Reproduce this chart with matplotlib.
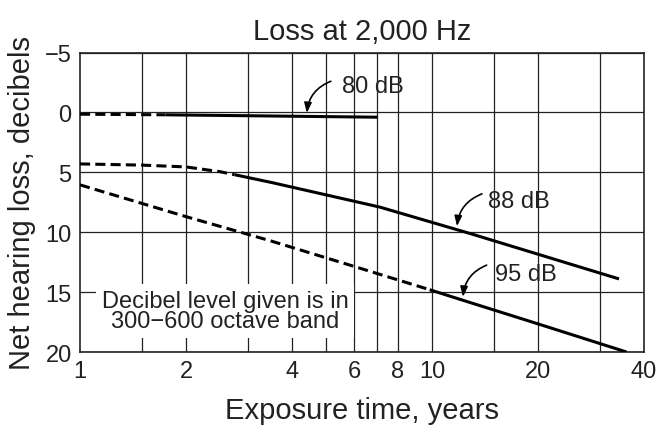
import matplotlib
matplotlib.use("Agg")
import matplotlib.pyplot as plt
from matplotlib.ticker import FixedLocator, NullFormatter

plt.rcParams['font.family'] = ['Liberation Sans', 'DejaVu Sans']

# ---- data ----
years_80_dashed = [1.0, 1.75]
loss_80_dashed = [0.15, 0.2]
years_80_solid = [1.75, 7.0]
loss_80_solid = [0.2, 0.4]

years_88_dashed = [1.0, 1.5, 2.0, 2.5, 2.75]
loss_88_dashed = [4.3, 4.4, 4.55, 4.95, 5.2]
years_88_solid = [2.75, 3.5, 7.1, 12.8, 34.0]
loss_88_solid = [5.2, 5.85, 7.9, 10.1, 13.9]

years_95_dashed = [1.0, 2.0, 3.46, 6.0, 9.85]
loss_95_dashed = [6.05, 8.7, 10.7, 12.85, 14.8]
years_95_solid = [9.85, 12.0, 20.0, 35.7]
loss_95_solid = [14.8, 15.6, 17.65, 20.0]

x_tick_values = [1, 2, 4, 6, 8, 10, 20, 40]
x_tick_labels = ["1", "2", "4", "6", "8", "10", "20", "40"]
x_grid_values = [1.5, 2, 3, 4, 5, 6, 7, 8, 10, 15, 20, 30]
y_tick_values = [-5, 0, 5, 10, 15, 20]

title = "Loss at 2,000 Hz"
xlabel = "Exposure time, years"
ylabel = "Net hearing loss, decibels"
note = "Decibel level given is in\n300\u2212600 octave band"

# ---- figure ----
fig = plt.figure(figsize=(6.57, 4.35), dpi=100)
ax = fig.add_axes([0.1218, 0.1885, 0.980 - 0.1218, 0.877 - 0.1885])

lw = 2.2
dash = (0, (3.3, 1.7))
kw = dict(color='black', lw=lw, zorder=3, solid_capstyle='butt', dash_capstyle='butt')
ax.plot(years_80_dashed, loss_80_dashed, linestyle=dash, **kw)
ax.plot(years_80_solid, loss_80_solid, linestyle='-', **kw)
ax.plot(years_88_dashed, loss_88_dashed, linestyle=dash, **kw)
ax.plot(years_88_solid, loss_88_solid, linestyle='-', **kw)
ax.plot(years_95_dashed, loss_95_dashed, linestyle=dash, **kw)
ax.plot(years_95_solid, loss_95_solid, linestyle='-', **kw)

ax.set_xscale('log')
ax.set_xlim(1, 40)
ax.set_ylim(20, -5)

ax.xaxis.remove_overlapping_locs = False
ax.xaxis.set_major_locator(FixedLocator(x_tick_values))
ax.set_xticklabels(x_tick_labels)
ax.xaxis.set_minor_locator(FixedLocator(x_grid_values))
ax.xaxis.set_minor_formatter(NullFormatter())
ax.set_yticks(y_tick_values)
ax.set_yticklabels([str(v).replace('-', '\u2212') for v in y_tick_values])

ax.tick_params(which='both', length=0, labelsize=17, pad=6, colors='#222222')
ax.grid(False, which='major', axis='x')
ax.grid(True, which='minor', axis='x', color='#222222', lw=0.9)
ax.grid(True, which='major', axis='y', color='#222222', lw=0.9)
ax.set_axisbelow(True)
for s in ax.spines.values():
    s.set_linewidth(1.2)
    s.set_color('#222222')

ax.set_title(title, fontsize=21, pad=10, color='#222222')
ax.set_xlabel(xlabel, fontsize=21, labelpad=10, color='#222222')
ax.set_ylabel(ylabel, fontsize=21, labelpad=6, color='#222222')

# annotations
arrow = dict(arrowstyle='-|>,head_length=0.6,head_width=0.22', color='black', lw=1.2,
             shrinkA=0, shrinkB=0, connectionstyle='arc3,rad=0.3')
ax.annotate('', xy=(4.41, 0.05), xytext=(5.16, -2.6), arrowprops=arrow, zorder=4)
ax.text(5.55, -2.2, '80 dB', fontsize=17, va='center', ha='left', color='#222222')
ax.annotate('', xy=(11.78, 9.5), xytext=(13.87, 6.8), arrowprops=arrow, zorder=4)
ax.text(14.4, 7.4, '88 dB', fontsize=17, va='center', ha='left', color='#222222')
ax.annotate('', xy=(12.25, 15.4), xytext=(14.3, 12.75), arrowprops=arrow, zorder=4)
ax.text(15.1, 13.5, '95 dB', fontsize=17, va='center', ha='left', color='#222222')

ax.text(2.58, 16.6, note, fontsize=17, ha='center', va='center', linespacing=0.9,
        color='#222222', zorder=5,
        bbox=dict(boxstyle='square,pad=0.25', fc='white', ec='none'))

fig.savefig('out.png', dpi=100)
